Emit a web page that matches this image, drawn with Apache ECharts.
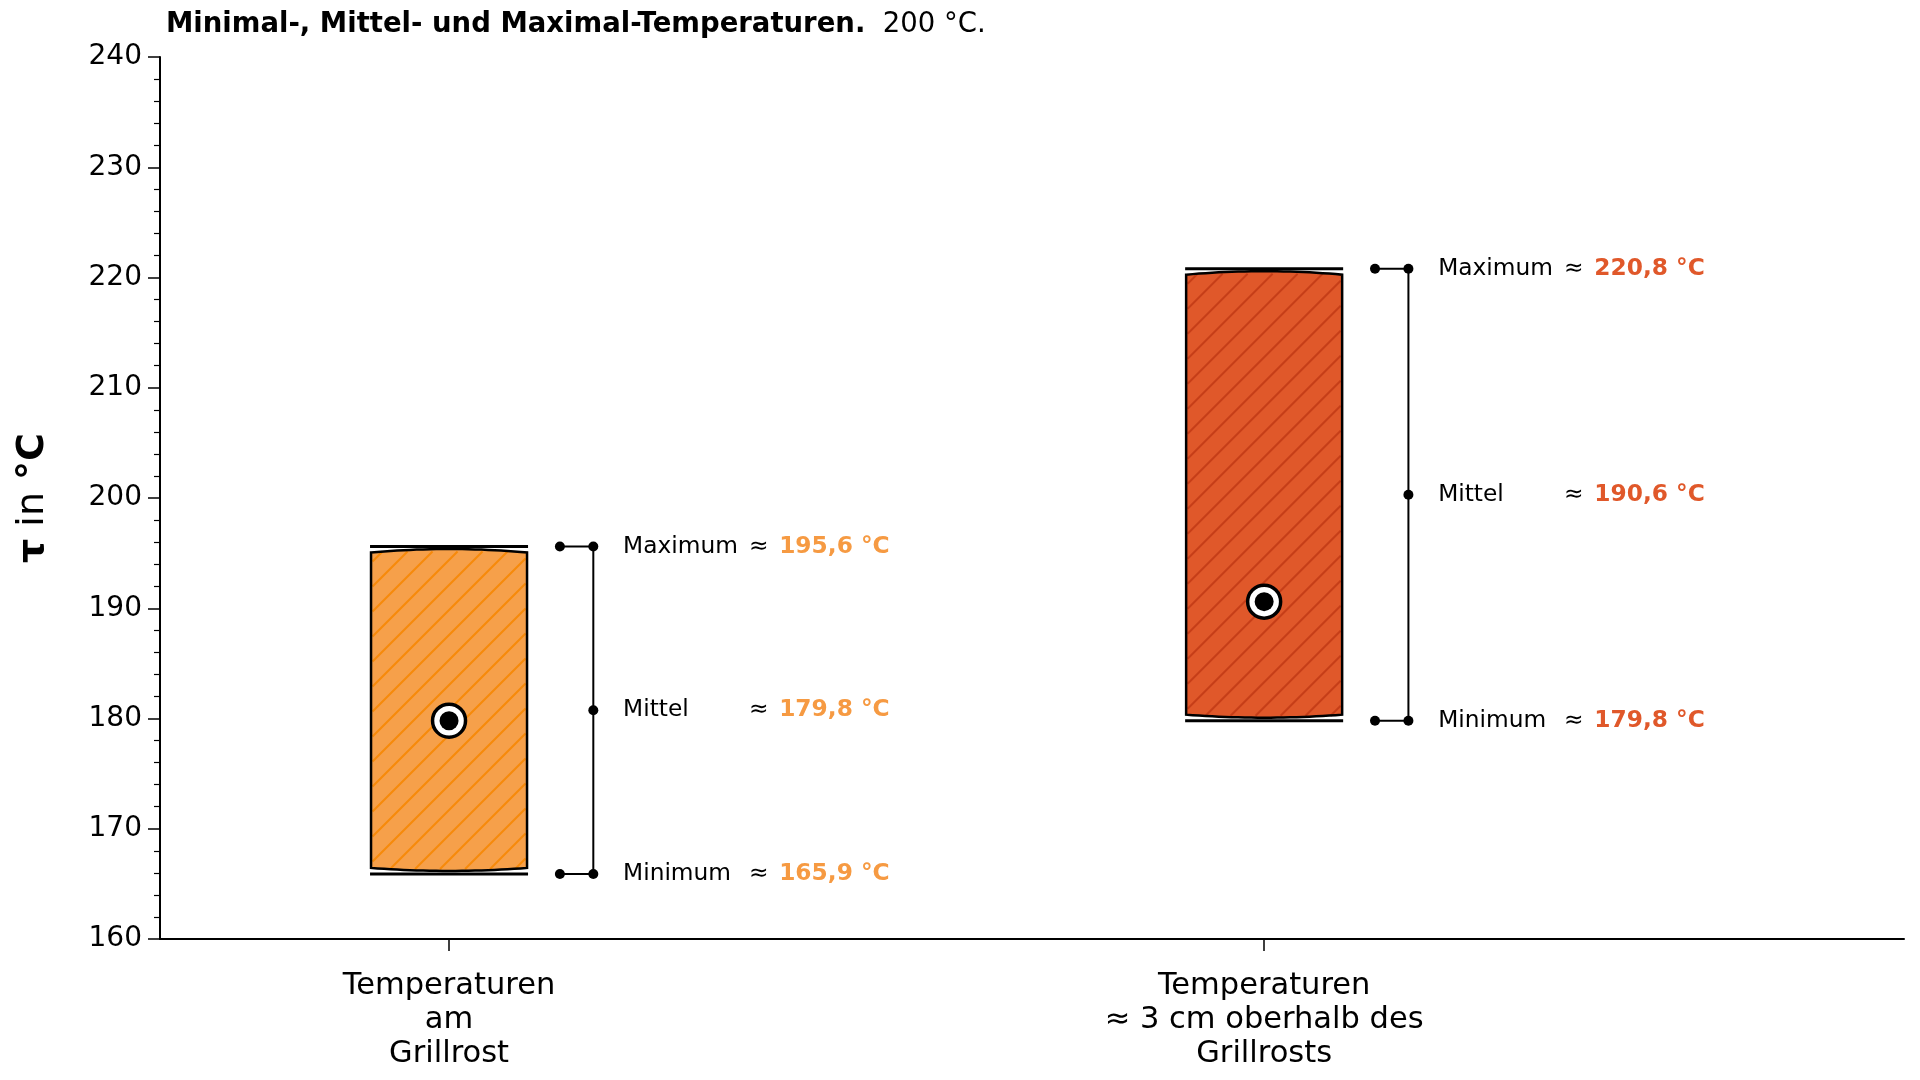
<!DOCTYPE html>
<html>
<head>
<meta charset="utf-8">
<script src="https://cdn.jsdelivr.net/npm/echarts@6/dist/echarts.min.js"></script>
<style>
html, body { margin: 0; padding: 0; background: #fff; }
#chart { width: 1920px; height: 1080px; }
</style>
</head>
<body>
<div id="chart"></div>
<script>
// Werte aus dem Diagramm
const categories = ['Temperaturen\nam\nGrillrost', 'Temperaturen\n≈ 3 cm oberhalb des\nGrillrosts'];
const positions = [0, 1];
const minValues = [165.9, 179.8];
const meanValues = [179.8, 190.6];
const maxValues = [195.6, 220.8];
const fillColors = ['#F6A04A', '#E0582A'];
const hatchColors = ['#F78A0A', '#C63E18'];
const textColors = ['#F69A42', '#E0582A'];

const FONT = 'DejaVu Sans';
const BOX_HALF = 0.0957;

function valText(v) {
    return v.toFixed(1).replace('.', ',') + ' °C';
}

// Box mit gewoelbten Kanten und Schraffur
function renderBox(params, api) {
    const i = params.dataIndex;
    const c = api.value(0), lo = api.value(1), hi = api.value(2);
    const pL = api.coord([c - BOX_HALF, hi]);
    const pR = api.coord([c + BOX_HALF, lo]);
    const x0 = pL[0], x1 = pR[0], yTop = pL[1], yBot = pR[1];
    const tCorner = yTop + 6, tCtrl = yTop - 1;
    const bCorner = yBot - 6, bCtrl = yBot + 0;
    const pts = [];
    const n = 24;
    for (let k = 0; k <= n; k++) {
        const t = k / n;
        const x = x0 + (x1 - x0) * t;
        const y = (1 - t) * (1 - t) * tCorner + 2 * t * (1 - t) * tCtrl + t * t * tCorner;
        pts.push([x, y]);
    }
    for (let k = 0; k <= n; k++) {
        const t = k / n;
        const x = x1 - (x1 - x0) * t;
        const y = (1 - t) * (1 - t) * bCorner + 2 * t * (1 - t) * bCtrl + t * t * bCorner;
        pts.push([x, y]);
    }
    const children = [];
    children.push({ type: 'polygon', shape: { points: pts }, style: { fill: fillColors[i], stroke: null } });
    // Schraffur: Linien x + y = const
    const step = 25;
    const hx0 = x0 + 1.5, hx1 = x1 - 1.5, hy0 = tCorner - 1, hy1 = bCorner + 1;
    for (let s = hx0 + hy0 + 10; s < hx1 + hy1; s += step) {
        const xa = Math.max(hx0, s - hy1);
        const xb = Math.min(hx1, s - hy0);
        if (xb <= xa) continue;
        children.push({
            type: 'line',
            shape: { x1: xa, y1: s - xa, x2: xb, y2: s - xb },
            style: { stroke: hatchColors[i], lineWidth: 2 }
        });
    }
    children.push({ type: 'polygon', shape: { points: pts }, style: { fill: null, stroke: '#000', lineWidth: 2.5 } });
    children.push({ type: 'line', shape: { x1: x0 - 1, y1: yTop, x2: x1 + 1, y2: yTop }, style: { stroke: '#000', lineWidth: 3 } });
    children.push({ type: 'line', shape: { x1: x0 - 1, y1: yBot, x2: x1 + 1, y2: yBot }, style: { stroke: '#000', lineWidth: 3 } });
    return { type: 'group', children: children };
}

// Klammer mit Beschriftung rechts neben der Box
function renderBracket(params, api) {
    const i = params.dataIndex;
    const c = api.value(0), lo = api.value(1), hi = api.value(2), mean = api.value(3);
    const mid = (lo + hi) / 2;
    const vTop = api.coord([c + 0.177, hi]);
    const vBot = api.coord([c + 0.177, lo]);
    const hTop = api.coord([c + 0.136, hi]);
    const hBot = api.coord([c + 0.136, lo]);
    const vMid = api.coord([c + 0.177, mid]);
    const children = [];
    const ls = { stroke: '#000', lineWidth: 2 };
    children.push({ type: 'line', shape: { x1: vTop[0], y1: vTop[1], x2: vBot[0], y2: vBot[1] }, style: ls });
    children.push({ type: 'line', shape: { x1: hTop[0], y1: hTop[1], x2: vTop[0], y2: vTop[1] }, style: ls });
    children.push({ type: 'line', shape: { x1: hBot[0], y1: hBot[1], x2: vBot[0], y2: vBot[1] }, style: ls });
    [hTop, vTop, hBot, vBot, vMid].forEach(p => {
        children.push({ type: 'circle', shape: { cx: p[0], cy: p[1], r: 5 }, style: { fill: '#000' } });
    });
    const rows = [['Maximum', hi, hi], ['Mittel', mid, mean], ['Minimum', lo, lo]];
    rows.forEach(r => {
        const pLab = api.coord([c + 0.2135, r[1]]);
        const pApx = api.coord([c + 0.368, r[1]]);
        const pVal = api.coord([c + 0.405, r[1]]);
        const base = { fontFamily: FONT, fontSize: 23.3, verticalAlign: 'middle', align: 'left' };
        children.push({ type: 'text', style: Object.assign({ text: r[0], x: pLab[0], y: pLab[1], fill: '#000' }, base) });
        children.push({ type: 'text', style: Object.assign({ text: '≈', x: pApx[0], y: pApx[1], fill: '#000' }, base) });
        children.push({ type: 'text', style: Object.assign({ text: valText(r[2]), x: pVal[0], y: pVal[1], fill: textColors[i], fontWeight: 'bold' }, base) });
    });
    return { type: 'group', children: children };
}

const chart = echarts.init(document.getElementById('chart'));
const boxData = positions.map((p, i) => [p, minValues[i], maxValues[i], meanValues[i]]);

const option = {
    animation: false,
    backgroundColor: '#fff',
    title: {
        text: '{b|Minimal-, Mittel- und Maximal-Temperaturen.}{n|  200 °C.}',
        left: 161,
        top: 6,
        textStyle: {
            fontWeight: 'normal',
            rich: {
                b: { fontFamily: FONT, fontSize: 27.5, fontWeight: 'bold', color: '#000' },
                n: { fontFamily: FONT, fontSize: 27.5, fontWeight: 'normal', color: '#000' }
            }
        }
    },
    grid: { left: 160, right: 16, top: 57, bottom: 141 },
    xAxis: {
        type: 'value',
        min: -0.3546,
        max: 1.785,
        splitLine: { show: false },
        axisLine: { onZero: false, lineStyle: { color: '#000', width: 2 } },
        axisTick: { customValues: positions, length: 12, lineStyle: { color: '#000', width: 1.5 } },
        axisLabel: {
            customValues: positions,
            formatter: v => categories[Math.round(v)],
            fontFamily: FONT,
            fontSize: 30.5,
            lineHeight: 34,
            color: '#000',
            margin: 30,
            align: 'center'
        }
    },
    yAxis: {
        type: 'value',
        min: 160,
        max: 240,
        interval: 10,
        name: '{b|τ}{n| in }{b|°C}',
        nameLocation: 'middle',
        nameRotate: 90,
        nameGap: 108,
        nameTextStyle: {
            rich: {
                b: { fontFamily: FONT, fontSize: 38, fontWeight: 'bold', color: '#000' },
                n: { fontFamily: FONT, fontSize: 38, color: '#000' }
            }
        },
        splitLine: { show: false },
        axisLine: { show: true, onZero: false, lineStyle: { color: '#000', width: 2 } },
        axisTick: { show: true, length: 12, lineStyle: { color: '#000', width: 1.5 } },
        minorTick: { show: true, splitNumber: 5, length: 6, lineStyle: { color: '#000', width: 1.2 } },
        axisLabel: { fontFamily: FONT, fontSize: 28, color: '#000', margin: 18 }
    },
    series: [
        {
            type: 'custom',
            renderItem: renderBox,
            data: boxData,
            clip: false,
            z: 2
        },
        {
            type: 'custom',
            renderItem: renderBracket,
            data: boxData,
            clip: false,
            z: 2
        },
        {
            type: 'scatter',
            data: positions.map((p, i) => [p, meanValues[i]]),
            symbol: 'circle',
            symbolSize: 33,
            itemStyle: { color: '#fff', borderColor: '#000', borderWidth: 3.5, opacity: 1 },
            z: 5
        },
        {
            type: 'scatter',
            data: positions.map((p, i) => [p, meanValues[i]]),
            symbol: 'circle',
            symbolSize: 19,
            itemStyle: { color: '#000', opacity: 1 },
            z: 6
        }
    ]
};
chart.setOption(option);
</script>
</body>
</html>
